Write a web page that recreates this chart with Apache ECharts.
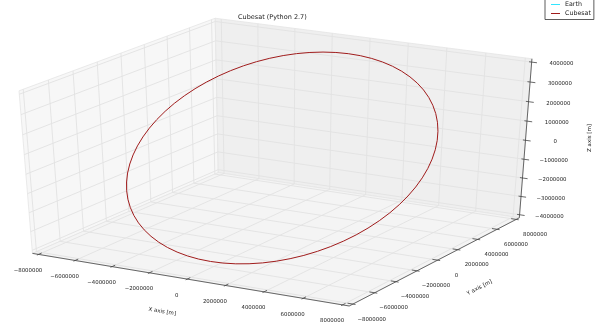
<!DOCTYPE html>
<html><head><meta charset="utf-8">
<script src="https://cdn.jsdelivr.net/npm/echarts@6/dist/echarts.min.js"></script>
<style>html,body{margin:0;padding:0;background:#fff}#c{width:609px;height:332px}</style>
</head><body><div id="c"></div>
<script>
// ---- data ----
const seriesNames = ['Earth', 'Cubesat'];
const xTicks = [-8000000, -6000000, -4000000, -2000000, 0, 2000000, 4000000, 6000000, 8000000];
const xTickLabels = ['\u22128000000', '\u22126000000', '\u22124000000', '\u22122000000', '0', '2000000', '4000000', '6000000', '8000000'];
const yTicks = [-8000000, -6000000, -4000000, -2000000, 0, 2000000, 4000000, 6000000, 8000000];
const yTickLabels = ['\u22128000000', '\u22126000000', '\u22124000000', '\u22122000000', '0', '2000000', '4000000', '6000000', '8000000'];
const zTicks = [-4000000, -3000000, -2000000, -1000000, 0, 1000000, 2000000, 3000000, 4000000];
const zTickLabels = ['\u22124000000', '\u22123000000', '\u22122000000', '\u22121000000', '0', '1000000', '2000000', '3000000', '4000000'];
const XLIM = [-8000000, 8000000];
const YLIM = [-8000000, 8000000];
const ZLIM = [-4000000, 4000000];
// orbit samples (m)
const orbitX = [7350000, 7322000, 7238000, 7099000, 6907000, 6661000, 6365000, 6021000, 5630000, 5197000, 4725000, 4216000, 3675000, 3106000, 2514000, 1902000, 1276000, 641000, 0,
  -641000, -1276000, -1902000, -2514000, -3106000, -3675000, -4216000, -4725000, -5197000, -5630000, -6021000, -6365000, -6661000, -6907000, -7099000, -7238000, -7322000, -7350000,
  -7322000, -7238000, -7099000, -6907000, -6661000, -6365000, -6021000, -5630000, -5197000, -4725000, -4216000, -3675000, -3106000, -2514000, -1902000, -1276000, -641000, 0,
  641000, 1276000, 1902000, 2514000, 3106000, 3675000, 4216000, 4725000, 5197000, 5630000, 6021000, 6365000, 6661000, 6907000, 7099000, 7238000, 7322000, 7350000];
const orbitY = [0, 548000, 1090000, 1626000, 2148000, 2654000, 3141000, 3603000, 4037000, 4441000, 4811000, 5145000, 5439000, 5693000, 5902000, 6067000, 6186000, 6257000, 6281000,
  6257000, 6186000, 6067000, 5902000, 5693000, 5439000, 5145000, 4811000, 4441000, 4037000, 3603000, 3141000, 2654000, 2148000, 1626000, 1090000, 548000, 0,
  -548000, -1090000, -1626000, -2148000, -2654000, -3141000, -3603000, -4037000, -4441000, -4811000, -5145000, -5439000, -5693000, -5902000, -6067000, -6186000, -6257000, -6281000,
  -6257000, -6186000, -6067000, -5902000, -5693000, -5439000, -5145000, -4811000, -4441000, -4037000, -3603000, -3141000, -2654000, -2148000, -1626000, -1090000, -548000, 0];
const orbitZ = [0, 333000, 663000, 988000, 1306000, 1613000, 1909000, 2190000, 2454000, 2700000, 2925000, 3128000, 3306000, 3460000, 3588000, 3688000, 3760000, 3804000, 3818000,
  3804000, 3760000, 3688000, 3588000, 3460000, 3306000, 3128000, 2925000, 2700000, 2454000, 2190000, 1909000, 1613000, 1306000, 988000, 663000, 333000, 0,
  -333000, -663000, -988000, -1306000, -1613000, -1909000, -2190000, -2454000, -2700000, -2925000, -3128000, -3306000, -3460000, -3588000, -3688000, -3760000, -3804000, -3818000,
  -3804000, -3760000, -3688000, -3588000, -3460000, -3306000, -3128000, -2925000, -2700000, -2454000, -2190000, -1909000, -1613000, -1306000, -988000, -663000, -333000, 0];
const earthX = [], earthY = [], earthZ = [];

// ---- 3D view (matplotlib-like perspective) ----
const ELEV = 30, AZIM = -60, DIST = 10;
const el = ELEV * Math.PI / 180, az = AZIM * Math.PI / 180;
const nV = [Math.cos(az) * Math.cos(el), Math.sin(az) * Math.cos(el), Math.sin(el)];
const uV = [-Math.sin(az), Math.cos(az), 0];
const vV = [-Math.cos(az) * Math.sin(el), -Math.sin(az) * Math.sin(el), Math.cos(el)];
function project(x, y, z) {
  const q = [(x - XLIM[0]) / (XLIM[1] - XLIM[0]) - 0.5,
             (y - YLIM[0]) / (YLIM[1] - YLIM[0]) - 0.5,
             (z - ZLIM[0]) / (ZLIM[1] - ZLIM[0]) - 0.5];
  const dot = a => a[0] * q[0] + a[1] * q[1] + a[2] * q[2];
  const w = DIST - dot(nV);
  return [dot(uV) / w, dot(vV) / w];
}
const pad = l => (l[1] - l[0]) / 48;
const XB = [XLIM[0] - pad(XLIM), XLIM[1] + pad(XLIM)];
const YB = [YLIM[0] - pad(YLIM), YLIM[1] + pad(YLIM)];
const ZB = [ZLIM[0] - pad(ZLIM), ZLIM[1] + pad(ZLIM)];

const FONT = '"DejaVu Sans", sans-serif';
const X_LBL = [-10.5, 16.2], Y_LBL = [18.9, 15.2], Z_LBL = [29.8, 1.7];
const X_TTL = [-25, 32.5], Y_TTL = [42, 27.5], Z_TTL = [64.6, -2.3];

function renderBox(params, api) {
  const C = (x, y, z) => api.coord(project(x, y, z));
  const ch = [];
  const poly = (pts, fill) => ch.push({type: 'polygon', shape: {points: pts}, style: {fill: fill, stroke: '#e4e4e4', lineWidth: 0.8}});
  const seg = (p1, p2, color, w) => ch.push({type: 'line', shape: {x1: p1[0], y1: p1[1], x2: p2[0], y2: p2[1]}, style: {stroke: color, lineWidth: w}});
  const txt = (p, text, rot, size) => ch.push({type: 'text', x: p[0], y: p[1], rotation: rot || 0,
    style: {text: text, fill: '#222', font: size + 'px ' + FONT, align: 'center', verticalAlign: 'middle', textAlign: 'center', textVerticalAlign: 'middle'}});
  const [x0, x1] = XB, [y0, y1] = YB, [z0, z1] = ZB;
  // panes
  poly([C(x0, y0, z0), C(x0, y1, z0), C(x0, y1, z1), C(x0, y0, z1)], '#f7f7f7');
  poly([C(x0, y1, z0), C(x1, y1, z0), C(x1, y1, z1), C(x0, y1, z1)], '#efefef');
  poly([C(x0, y0, z0), C(x1, y0, z0), C(x1, y1, z0), C(x0, y1, z0)], '#f4f4f4');
  // grid
  const G = '#e2e2e2', GW = 0.9;
  yTicks.forEach(y => { seg(C(x0, y, z0), C(x0, y, z1), G, GW); seg(C(x0, y, z0), C(x1, y, z0), G, GW); });
  xTicks.forEach(x => { seg(C(x, y1, z0), C(x, y1, z1), G, GW); seg(C(x, y0, z0), C(x, y1, z0), G, GW); });
  zTicks.forEach(z => { seg(C(x0, y0, z), C(x0, y1, z), G, GW); seg(C(x0, y1, z), C(x1, y1, z), G, GW); });
  // axis lines
  const A = '#444', AW = 0.8;
  seg(C(x0, y0, z0), C(x1, y0, z0), A, AW);
  seg(C(x1, y0, z0), C(x1, y1, z0), A, AW);
  seg(C(x1, y1, z0), C(x1, y1, z1), A, AW);
  const dX = (XLIM[1] - XLIM[0]) / 12, dY = (YLIM[1] - YLIM[0]) / 12;
  xTicks.forEach((x, i) => {
    seg(C(x, y0 - 0.1 * dY, z0), C(x, y0 + 0.2 * dY, z0), A, AW);
    const p = C(x, y0, z0);
    txt([p[0] + X_LBL[0], p[1] + X_LBL[1]], xTickLabels[i], 0, 5.4);
  });
  yTicks.forEach((y, i) => {
    seg(C(x1 + 0.1 * dX, y, z0), C(x1 - 0.2 * dX, y, z0), A, AW);
    const p = C(x1, y, z0);
    txt([p[0] + Y_LBL[0], p[1] + Y_LBL[1]], yTickLabels[i], 0, 5.4);
  });
  zTicks.forEach((z, i) => {
    seg(C(x1 + 0.2 * dX, y1, z), C(x1 - 0.1 * dX, y1, z), A, AW);
    const p = C(x1, y1, z);
    txt([p[0] + Z_LBL[0], p[1] + Z_LBL[1]], zTickLabels[i], 0, 5.4);
  });
  // axis titles
  const pa = C(0, y0, z0), pb = C(x1, 0, z0), pc = C(x1, y1, 0);
  const ax0 = C(x0, y0, z0), ax1 = C(x1, y0, z0), ay1 = C(x1, y1, z0);
  const rx = -Math.atan2(ax1[1] - ax0[1], ax1[0] - ax0[0]);
  const ry = -Math.atan2(ay1[1] - ax1[1], ay1[0] - ax1[0]);
  txt([pa[0] + X_TTL[0], pa[1] + X_TTL[1]], 'X axis [m]', rx, 5.5);
  txt([pb[0] + Y_TTL[0], pb[1] + Y_TTL[1]], 'Y axis [m]', ry, 5.5);
  txt([pc[0] + Z_TTL[0], pc[1] + Z_TTL[1]], 'Z axis [m]', Math.PI / 2, 5.5);
  return {type: 'group', children: ch};
}

const chart = echarts.init(document.getElementById('c'), null, {renderer: 'canvas'});
chart.setOption({
  animation: false,
  backgroundColor: '#fff',
  title: {text: 'Cubesat (Python 2.7)', left: 238, top: 13.5, padding: 0,
    textStyle: {fontSize: 6.5, fontFamily: FONT, fontWeight: 'normal', color: '#222'}},
  legend: {orient: 'vertical', left: 545, top: -3, padding: [4, 3, 2.5, 6], itemGap: 2,
    icon: 'rect', itemWidth: 9, itemHeight: 1,
    borderColor: '#333', borderWidth: 0.8, backgroundColor: '#fff',
    textStyle: {fontSize: 6.3, fontFamily: FONT, color: '#222', lineHeight: 7}, data: seriesNames},
  grid: {left: 0, right: 0, top: 0, bottom: 0},
  xAxis: {type: 'value', min: -0.07972, max: 0.09379, show: false},
  yAxis: {type: 'value', min: -0.09826, max: 0.08815, show: false},
  series: [
    {type: 'custom', coordinateSystem: 'cartesian2d', renderItem: renderBox, data: [[0, 0]], silent: true, clip: false, z: 1},
    {name: seriesNames[0], type: 'line', symbol: 'none', color: '#33e6ff', lineStyle: {width: 1, color: '#33e6ff'}, z: 3,
      data: earthX.map((x, i) => project(x, earthY[i], earthZ[i]))},
    {name: seriesNames[1], type: 'line', symbol: 'none', color: '#a01c1c', lineStyle: {width: 1, color: '#a01c1c'}, z: 3,
      data: orbitX.map((x, i) => project(x, orbitY[i], orbitZ[i]))}
  ]
});
</script>
</body></html>
